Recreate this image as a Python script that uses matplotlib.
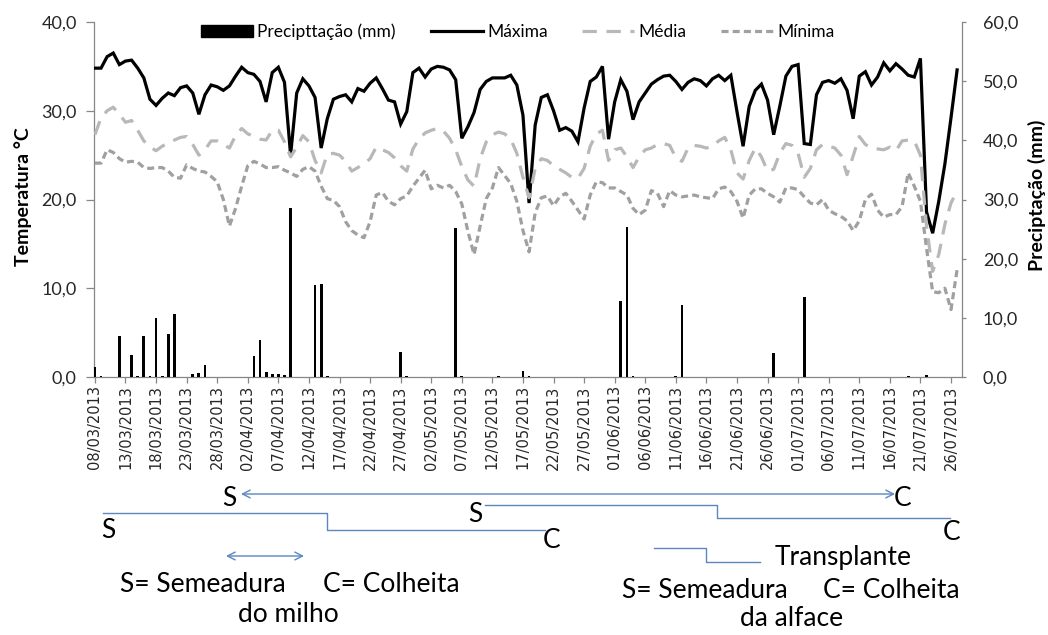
import matplotlib
matplotlib.use("Agg")
import matplotlib.pyplot as plt
from matplotlib.patches import Patch
from matplotlib.lines import Line2D
from matplotlib.ticker import FuncFormatter
import pandas as pd

# ---- data -------------------------------------------------------------
dates = pd.date_range("2013-03-08", periods=142, freq="D")
tick_idx = list(range(0, 142, 5))
tick_labels = [dates[i].strftime("%d/%m/%Y") for i in tick_idx]

t_max = [34.8, 34.8, 36.1, 36.5, 35.2, 35.6, 35.7, 34.8, 33.7, 31.3,
         30.6, 31.4, 32.0, 31.7, 32.6, 32.8, 32.0, 29.6, 31.8, 32.9,
         32.7, 32.3, 32.8, 33.9, 34.9, 34.3, 34.1, 33.3, 31.0, 34.3,
         34.9, 33.2, 25.0, 32.0, 33.6, 32.8, 31.5, 25.8, 29.1, 31.3,
         31.6, 31.8, 31.0, 32.5, 32.2, 33.1, 33.7, 32.5, 31.2, 31.0,
         28.5, 29.9, 34.3, 34.8, 33.8, 34.7, 35.0, 34.9, 34.6, 33.5,
         26.9, 28.2, 29.8, 32.4, 33.3, 33.7, 33.7, 33.7, 34.0, 32.9,
         29.5, 19.6, 28.4, 31.5, 31.8, 30.0, 27.8, 28.1, 27.7, 26.5,
         30.3, 33.3, 33.8, 35.0, 26.8, 31.0, 33.5, 32.2, 29.0, 31.0,
         32.0, 33.0, 33.5, 33.9, 34.0, 33.3, 32.4, 33.2, 33.6, 33.4,
         32.8, 33.6, 34.0, 33.4, 34.0, 29.9, 26.0, 30.5, 32.3, 33.0,
         31.2, 27.3, 30.5, 33.9, 35.0, 35.2, 26.3, 26.2, 31.8, 33.2,
         33.4, 33.1, 33.6, 32.3, 29.1, 33.9, 34.4, 32.9, 33.8, 35.4,
         34.5, 35.3, 34.7, 34.0, 33.8, 35.9, 18.6, 16.2, 19.8, 24.0,
         29.2, 34.6]

t_med = [27.3, 29.2, 30.0, 30.4, 29.6, 28.7, 28.9, 27.8, 26.6, 25.9,
         25.5, 26.0, 26.4, 26.7, 27.0, 27.1, 26.2, 25.0, 25.6, 26.6,
         26.6, 26.2, 25.8, 27.2, 28.0, 27.4, 27.1, 26.8, 26.7, 27.8,
         27.8, 26.5, 24.8, 25.9, 27.2, 26.5, 24.4, 23.0, 25.1, 25.2,
         25.0, 24.3, 23.2, 23.6, 24.0, 24.6, 25.9, 25.6, 25.3, 24.7,
         23.8, 23.2, 25.7, 26.8, 27.5, 27.8, 28.0, 27.7, 26.9, 25.6,
         23.7, 22.2, 21.5, 24.6, 26.5, 27.3, 27.6, 27.4, 26.8, 25.2,
         22.5, 20.2, 23.5, 24.6, 24.4, 23.8, 23.4, 23.0, 22.5, 22.4,
         23.5, 26.0, 27.4, 27.8, 24.4, 25.6, 25.8, 24.8, 23.6, 24.8,
         25.6, 25.8, 26.2, 26.3, 26.1, 24.7, 24.3, 25.8, 26.1, 26.0,
         25.8, 26.0, 26.6, 27.0, 25.6, 23.0, 22.3, 24.4, 25.8, 24.8,
         23.2, 23.4, 25.2, 26.3, 26.1, 25.2, 22.5, 23.5, 25.6, 26.2,
         26.0, 25.8, 25.0, 22.8, 24.9, 27.1, 26.2, 25.8, 25.7, 25.6,
         25.9, 25.5, 26.6, 26.7, 26.6, 25.0, 17.0, 11.9, 13.8, 17.2,
         19.6, 21.0]

t_min = [24.1, 24.1, 25.6, 25.3, 24.6, 24.2, 24.3, 24.2, 23.6, 23.5,
         23.6, 23.6, 23.2, 22.5, 22.4, 23.9, 23.5, 23.2, 23.1, 22.6,
         22.0, 20.0, 17.0, 19.0, 21.5, 23.8, 24.3, 24.0, 23.6, 23.6,
         23.7, 23.3, 23.0, 22.6, 23.4, 23.7, 23.2, 21.5, 20.1, 19.9,
         19.2, 17.5, 16.5, 16.0, 15.7, 17.5, 20.5, 20.8, 19.8, 19.4,
         20.1, 20.4, 21.5, 22.4, 23.3, 21.2, 21.6, 21.3, 21.6, 20.9,
         19.5, 16.4, 13.8, 17.0, 20.1, 21.3, 23.6, 22.7, 21.8, 19.8,
         16.5, 14.1, 18.5, 20.2, 20.4, 19.3, 20.3, 20.7, 19.8, 18.8,
         17.8, 20.5, 22.0, 21.9, 21.3, 21.3, 20.9, 20.5, 19.0, 18.3,
         18.8, 21.0, 20.7, 19.2, 21.0, 20.5, 20.3, 20.4, 20.5, 20.3,
         20.2, 20.1, 21.2, 21.4, 20.9, 19.8, 17.9, 20.5, 21.2, 21.2,
         20.7, 20.3, 19.7, 21.3, 21.3, 21.1, 20.3, 19.6, 19.4, 20.0,
         18.8, 18.4, 18.1, 17.6, 16.5, 17.6, 20.0, 20.6, 18.8, 18.0,
         18.3, 18.3, 19.2, 23.0, 21.5, 19.8, 14.5, 9.6, 9.5, 10.0,
         7.6, 12.1]

precip = [1.7, 0.2, 0.0, 0.0, 7.0, 0.0, 3.8, 0.2, 7.0, 0.2,
          9.9, 0.2, 7.3, 10.6, 0.0, 0.0, 0.5, 0.7, 2.0, 0.0,
          0.0, 0.0, 0.0, 0.0, 0.0, 0.0, 3.5, 6.3, 0.9, 0.5,
          0.5, 0.3, 28.5, 0.0, 0.0, 0.0, 15.5, 15.7, 0.2, 0.0,
          0.0, 0.0, 0.0, 0.0, 0.0, 0.0, 0.0, 0.0, 0.0, 0.0,
          4.2, 0.2, 0.0, 0.0, 0.0, 0.0, 0.0, 0.0, 0.0, 25.1,
          0.2, 0.0, 0.0, 0.0, 0.0, 0.0, 0.2, 0.0, 0.0, 0.0,
          1.0, 0.2, 0.0, 0.0, 0.0, 0.0, 0.0, 0.0, 0.0, 0.0,
          0.0, 0.0, 0.0, 0.0, 0.0, 0.0, 12.8, 25.4, 0.2, 0.0,
          0.0, 0.0, 0.0, 0.0, 0.0, 0.2, 12.1, 0.0, 0.0, 0.0,
          0.0, 0.0, 0.0, 0.0, 0.0, 0.0, 0.0, 0.0, 0.0, 0.0,
          0.0, 4.1, 0.0, 0.0, 0.0, 0.0, 13.5, 0.0, 0.0, 0.0,
          0.0, 0.0, 0.0, 0.0, 0.0, 0.0, 0.0, 0.0, 0.0, 0.0,
          0.0, 0.0, 0.0, 0.2, 0.0, 0.0, 0.3, 0.0, 0.0, 0.0,
          0.0, 0.0]

# ---- styling ----------------------------------------------------------
TEXT_FONT = "Lato"
SPINE = "#868686"
TXT = "#262626"
C_MED = "#B8B8B8"
C_MIN = "#A0A0A0"
BLUE = "#5B87C0"

W, H = 1048, 635
fig = plt.figure(figsize=(W / 100, H / 100), dpi=100)
ax = fig.add_axes([94 / W, 1 - 377 / H, (962 - 94) / W, (377 - 22) / H])
ax2 = ax.twinx()

x = list(range(len(dates)))

ax.plot(x, t_max, color="black", lw=2.3, solid_joinstyle="miter", zorder=3)
ax.plot(x, t_med, color=C_MED, lw=2.3, linestyle=(0, (4.5, 3)), zorder=3)
ax.plot(x, t_min, color=C_MIN, lw=2.3, linestyle=(0, (2.2, 1.3)), zorder=3)
ax2.bar(x, precip, width=0.45, color="black", zorder=2)

ax.set_xlim(-0.15, 141.8)
ax.set_ylim(0, 40)
ax2.set_ylim(0, 60)
ax.set_yticks(range(0, 41, 10))
ax2.set_yticks(range(0, 61, 10))
fmt = FuncFormatter(lambda v, _: f"{v:.1f}".replace(".", ","))
ax.yaxis.set_major_formatter(fmt)
ax2.yaxis.set_major_formatter(fmt)

ax.set_xticks(tick_idx)
ax.set_xticklabels(tick_labels, rotation=90, fontsize=10.5,
                   family="DejaVu Sans", color=TXT)

for a in (ax, ax2):
    a.spines["top"].set_visible(False)
    for s in a.spines.values():
        s.set_color(SPINE)
        s.set_linewidth(0.9)
ax.spines["right"].set_visible(False)
ax2.spines["left"].set_visible(False)
ax2.spines["bottom"].set_visible(False)

ax.tick_params(axis="y", direction="out", length=5.5, width=0.9, color=SPINE,
               pad=7, labelsize=13, labelcolor=TXT)
ax2.tick_params(axis="y", direction="out", length=3, width=0.9, color=SPINE,
                pad=12, labelsize=13, labelcolor=TXT)
ax.tick_params(axis="x", direction="out", length=4, width=0.9, color=SPINE,
               pad=2)
for lab in ax.get_yticklabels() + ax2.get_yticklabels():
    lab.set_family(TEXT_FONT)

fig.text(23 / W, 1 - 197 / H, "Temperatura °C", rotation=90, ha="center",
         va="center", fontsize=14, fontweight="bold", family=TEXT_FONT,
         color="black")
fig.text(1037 / W, 1 - 195 / H, "Preciptação (mm)", rotation=90,
         ha="center", va="center", fontsize=14, fontweight="bold",
         family=TEXT_FONT, color="black")

handles = [Patch(facecolor="black", edgecolor="black"),
           Line2D([], [], color="black", lw=2.3),
           Line2D([], [], color=C_MED, lw=2.3, linestyle=(0, (4.5, 3))),
           Line2D([], [], color=C_MIN, lw=2.3, linestyle=(0, (2.2, 1.3)))]
labels = ["Precipttação (mm)", "Máxima", "Média", "Mínima"]
fig.legend(handles, labels, loc="center", bbox_to_anchor=(518 / W, 1 - 31.5 / H),
           ncol=4, frameon=False, handlelength=3.0, handletextpad=0.25,
           columnspacing=2.0, borderaxespad=0, borderpad=0,
           prop={"family": TEXT_FONT, "size": 12.5})

# ---- crop-calendar schematic below the chart (pixel coordinates) -------
ov = fig.add_axes([0, 0, 1, 1])
ov.set_xlim(0, W)
ov.set_ylim(H, 0)
ov.axis("off")

big = dict(fontsize=19, family=TEXT_FONT, color="black", va="center")
arrow = dict(arrowstyle="<->,head_length=0.55,head_width=0.28",
             color=BLUE, lw=1.0, shrinkA=0, shrinkB=0)

ov.annotate("", xy=(895, 494), xytext=(241, 494), arrowprops=arrow)
ov.text(229, 498, "S", ha="center", **big)
ov.text(903, 498, "C", ha="center", **big)

ov.plot([103, 327, 327, 545], [513, 513, 530, 530], color=BLUE, lw=1.0)
ov.text(108, 531, "S", ha="center", **big)
ov.text(552, 540, "C", ha="center", **big)

ov.plot([485, 717, 717, 950], [505, 505, 518, 518], color=BLUE, lw=1.0)
ov.text(475, 514, "S", ha="center", **big)
ov.text(952, 532, "C", ha="center", **big)

ov.annotate("", xy=(304, 556), xytext=(226, 556), arrowprops=arrow)

ov.plot([654, 706, 706, 760], [548, 548, 562, 562], color=BLUE, lw=1.0)
ov.text(775, 557, "Transplante", ha="left", **big)

ov.text(120, 584, "S= Semeadura", ha="left", **big)
ov.text(323, 584, "C= Colheita", ha="left", **big)
ov.text(288, 614, "do milho", ha="center", **big)

ov.text(622, 591, "S= Semeadura", ha="left", **big)
ov.text(823, 591, "C= Colheita", ha="left", **big)
ov.text(792, 619, "da alface", ha="center", **big)

fig.savefig("out.png", dpi=100)
